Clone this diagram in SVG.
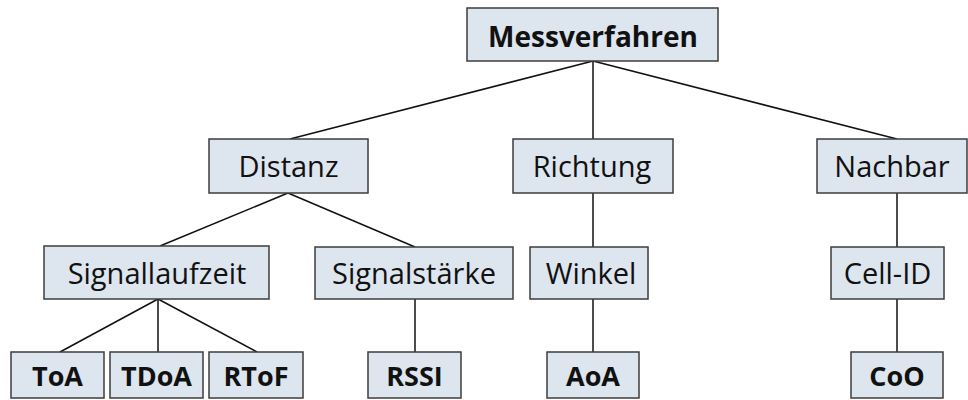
<svg xmlns="http://www.w3.org/2000/svg" width="968" height="400" viewBox="0 0 968 400">
<style>
.box{fill:#dde5ee;stroke:#3c3c3c;stroke-width:1.5}
.t{font-family:"Open Sans","Noto Sans",sans-serif;font-size:29px;fill:#111;text-anchor:middle}
.b{font-family:"Open Sans","Noto Sans",sans-serif;font-size:27px;font-weight:bold;fill:#111;text-anchor:middle}
.c line{stroke:#111;stroke-width:1.5}
</style>
<rect width="968" height="400" fill="#fff"/>
<g class="c" id="connectors">
<line x1="593" y1="61" x2="290" y2="139"/>
<line x1="593" y1="61" x2="593" y2="139"/>
<line x1="593" y1="61" x2="897" y2="139"/>
<line x1="288" y1="193" x2="160" y2="246"/>
<line x1="288" y1="193" x2="415" y2="247"/>
<line x1="158" y1="299" x2="60" y2="352"/>
<line x1="158" y1="299" x2="158" y2="352"/>
<line x1="158" y1="299" x2="257" y2="352"/>
<line x1="415" y1="299" x2="415" y2="352"/>
<line x1="593" y1="193" x2="593" y2="247"/>
<line x1="593" y1="299" x2="593" y2="352"/>
<line x1="897" y1="193" x2="897" y2="247"/>
<line x1="897" y1="299" x2="897" y2="352"/>
</g>
<g id="messverfahren"><rect class="box" x="467" y="8" width="251" height="53"/><text class="b" x="593" y="47" style="font-size:28px">Messverfahren</text></g>
<g id="distanz"><rect class="box" x="209" y="139" width="159" height="54"/><text class="t" x="288.5" y="177">Distanz</text></g>
<g id="richtung"><rect class="box" x="513" y="139" width="160" height="54"/><text class="t" x="592" y="177">Richtung</text></g>
<g id="nachbar"><rect class="box" x="817" y="139" width="150" height="54"/><text class="t" x="892" y="177">Nachbar</text></g>
<g id="signallaufzeit"><rect class="box" x="44" y="246" width="225" height="53"/><text class="t" x="157" y="284">Signallaufzeit</text></g>
<g id="signalstaerke"><rect class="box" x="315" y="247" width="198" height="52"/><text class="t" x="414" y="284">Signalstärke</text></g>
<g id="winkel"><rect class="box" x="530" y="247" width="118" height="52"/><text class="t" x="591" y="284">Winkel</text></g>
<g id="cellid"><rect class="box" x="831" y="247" width="113" height="52"/><text class="t" x="887.5" y="284">Cell-ID</text></g>
<g id="toa"><rect class="box" x="11" y="352" width="93" height="46"/><text class="b" x="57.5" y="386">ToA</text></g>
<g id="tdoa"><rect class="box" x="110" y="352" width="93" height="46"/><text class="b" x="156.5" y="386">TDoA</text></g>
<g id="rtof"><rect class="box" x="209" y="352" width="94" height="46"/><text class="b" x="256" y="386">RToF</text></g>
<g id="rssi"><rect class="box" x="368" y="352" width="93" height="46"/><text class="b" x="414.5" y="386">RSSI</text></g>
<g id="aoa"><rect class="box" x="547" y="352" width="92" height="46"/><text class="b" x="593" y="386">AoA</text></g>
<g id="coo"><rect class="box" x="851" y="352" width="92" height="46"/><text class="b" x="897" y="386">CoO</text></g>
</svg>
